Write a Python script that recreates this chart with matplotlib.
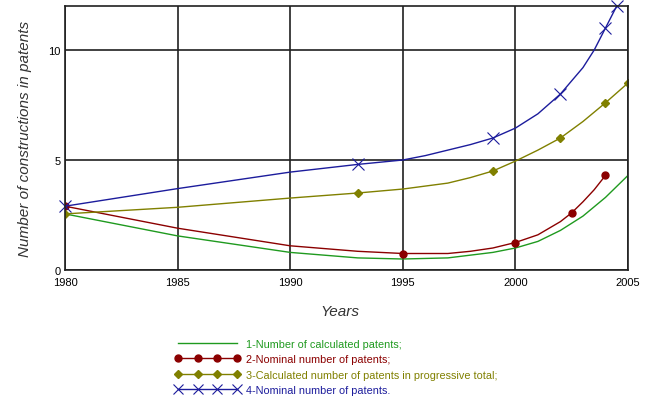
import matplotlib
matplotlib.use("Agg")
import matplotlib.pyplot as plt

plt.rcParams['font.family'] = ['Liberation Sans', 'DejaVu Sans']

# 1 - calculated patents (line only)
calc_years = [1980, 1985, 1990, 1993, 1995, 1997, 1999, 2000, 2001, 2002, 2003, 2004, 2005]
calc_vals = [2.55, 1.55, 0.8, 0.55, 0.5, 0.55, 0.8, 1.0, 1.3, 1.8, 2.45, 3.3, 4.3]

# 2 - nominal number of patents
nom_line_years = [1980, 1985, 1990, 1993, 1995, 1997, 1998, 1999, 2000, 2001, 2002, 2002.5, 2003, 2003.5, 2004]
nom_line_vals = [2.9, 1.9, 1.1, 0.85, 0.75, 0.75, 0.85, 1.0, 1.25, 1.6, 2.2, 2.6, 3.1, 3.65, 4.3]
nom_mark_years = [1980, 1995, 2000, 2002.5, 2004]
nom_mark_vals = [2.9, 0.75, 1.25, 2.6, 4.3]

# 3 - calculated number in progressive total
prog_line_years = [1980, 1985, 1990, 1993, 1995, 1997, 1998, 1999, 2000, 2001, 2002, 2003, 2004, 2005]
prog_line_vals = [2.55, 2.85, 3.27, 3.5, 3.68, 3.95, 4.2, 4.5, 4.95, 5.45, 6.0, 6.75, 7.6, 8.5]
prog_mark_years = [1980, 1993, 1999, 2002, 2004, 2005]
prog_mark_vals = [2.55, 3.5, 4.5, 6.0, 7.6, 8.5]

# 4 - nominal number of patents (cumulative)
cum_line_years = [1980, 1985, 1990, 1993, 1995, 1996, 1997, 1998, 1999, 2000, 2001, 2002, 2003, 2003.5, 2004, 2004.5]
cum_line_vals = [2.9, 3.7, 4.45, 4.8, 5.0, 5.2, 5.45, 5.7, 6.0, 6.45, 7.1, 8.0, 9.2, 10.0, 11.0, 12.0]
cum_mark_years = [1980, 1993, 1999, 2002, 2004, 2004.5]
cum_mark_vals = [2.9, 4.8, 6.0, 8.0, 11.0, 12.0]

labels = ["1-Number of calculated patents;",
          "2-Nominal number of patents;",
          "3-Calculated number of patents in progressive total;",
          "4-Nominal number of patents."]
green, red, olive, blue = "#1f9a1f", "#8b0000", "#808000", "#1c1c9c"

fig = plt.figure(figsize=(6.54, 4.10), dpi=100)
ax = fig.add_axes([65 / 654, 1 - 271 / 410, 563 / 654, 264 / 410])

ax.plot(calc_years, calc_vals, color=green, lw=1)
ax.plot(nom_line_years, nom_line_vals, color=red, lw=1)
ax.plot(nom_mark_years, nom_mark_vals, 'o', color=red, ms=5)
ax.plot(prog_line_years, prog_line_vals, color=olive, lw=1)
ax.plot(prog_mark_years, prog_mark_vals, 'D', color=olive, ms=4)
ax.plot(cum_line_years, cum_line_vals, color=blue, lw=1)
ax.plot(cum_mark_years, cum_mark_vals, 'x', color=blue, ms=9, mew=0.8, clip_on=False)

ax.set_xlim(1980, 2005)
ax.set_ylim(0, 12)
ax.set_xticks([1980, 1985, 1990, 1995, 2000, 2005])
ax.set_yticks([0, 5, 10])
ax.tick_params(axis='x', labelsize=8, length=0, pad=5)
ax.tick_params(axis='y', labelsize=8, length=0, pad=3)
ax.grid(True, color="#202020", lw=1.2)
ax.set_axisbelow(True)
for s in ax.spines.values():
    s.set_color("#202020")
    s.set_linewidth(1.2)

ax.set_ylabel("Number of constructions in patents", fontsize=11, style='italic',
              color="#333333", labelpad=12)
fig.text(340 / 654, 1 - 312 / 410, "Years", fontsize=11, style='italic',
         color="#333333", ha='center', va='center')

# legend
handles = [
    plt.Line2D([], [], color=green, lw=1),
    plt.Line2D([], [], color=red, lw=1, marker='o', ms=5),
    plt.Line2D([], [], color=olive, lw=1, marker='D', ms=4),
    plt.Line2D([], [], color=blue, lw=1, marker='x', ms=7, mew=0.8),
]
leg = fig.legend(handles, labels, loc='upper left', bbox_to_anchor=(165 / 654, 1 - 330 / 410),
                 frameon=False, numpoints=4, handlelength=6, fontsize=7.8,
                 labelcolor=[green, red, olive, blue], labelspacing=0.5, handletextpad=0.6)

fig.savefig("out.png", dpi=100, facecolor="white")
